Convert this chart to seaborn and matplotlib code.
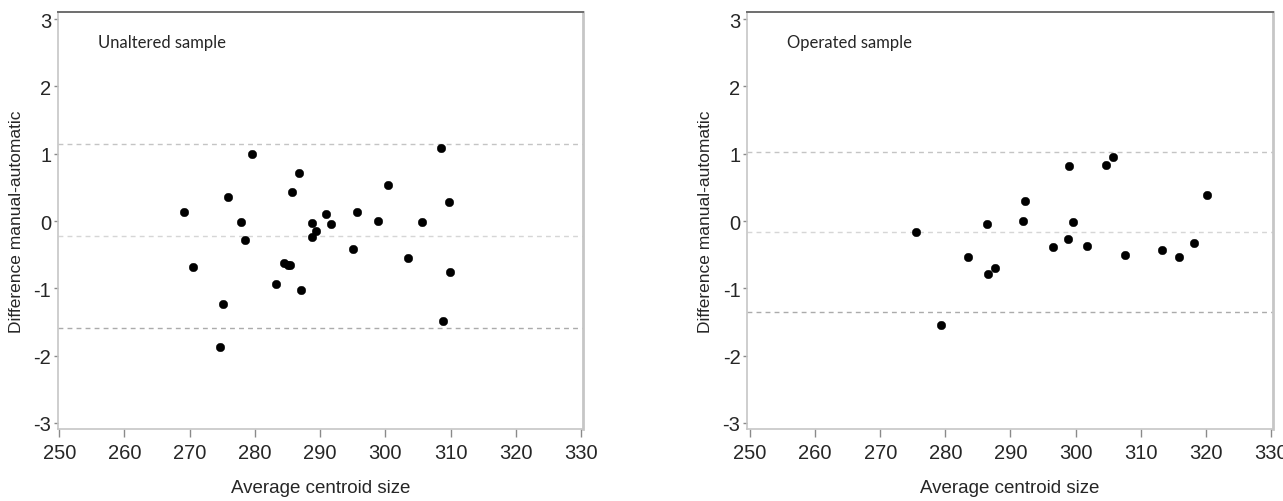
import numpy as np
import pandas as pd
import seaborn as sns
import matplotlib.pyplot as plt

# Bland-Altman style data
unaltered_size = [269.1, 270.5, 274.7, 275.1, 275.9, 277.9, 278.5, 279.6, 283.3, 284.4,
                  285.1, 285.4, 285.7, 286.7, 287.1, 288.7, 288.8, 289.4, 290.9, 291.6,
                  295.1, 295.6, 298.9, 300.4, 303.5, 305.6, 308.6, 308.8, 309.8, 309.9]
unaltered_diff = [0.13, -0.68, -1.87, -1.23, 0.35, -0.02, -0.28, 0.99, -0.93, -0.63,
                  -0.66, -0.66, 0.43, 0.72, -1.02, -0.03, -0.24, -0.15, 0.11, -0.05,
                  -0.41, 0.14, 0.0, 0.54, -0.55, -0.01, 1.08, -1.48, 0.28, -0.76]
unaltered_lines = [1.14, -0.22, -1.585]   # upper LoA, mean, lower LoA

operated_size = [275.5, 279.3, 283.5, 286.4, 286.6, 287.6, 291.9, 292.2, 296.6, 298.8,
                 299.0, 299.6, 301.8, 304.6, 305.7, 307.6, 313.3, 315.9, 318.1, 320.2]
operated_diff = [-0.17, -1.54, -0.54, -0.04, -0.78, -0.70, 0.0, 0.30, -0.39, -0.26,
                 0.82, -0.02, -0.37, 0.83, 0.95, -0.51, -0.43, -0.54, -0.32, 0.38]
operated_lines = [1.02, -0.16, -1.35]

xticks = [250, 260, 270, 280, 290, 300, 310, 320, 330]
yticks = [-3, -2, -1, 0, 1, 2, 3]

sns.set_style("white")
narrow = ['DejaVu Sans Condensed', 'Liberation Sans Narrow', 'Liberation Sans', 'DejaVu Sans']
plt.rcParams['font.family'] = narrow
plt.rcParams['axes.unicode_minus'] = False

fig = plt.figure(figsize=(12.83, 5.02), dpi=100)
ax1 = fig.add_axes([0.0454, 0.1434, 0.4092, 0.830])
ax2 = fig.add_axes([0.5825, 0.1434, 0.4097, 0.830])

panels = [
    (ax1, unaltered_size, unaltered_diff, unaltered_lines, "Unaltered sample", (249.85, 330.35)),
    (ax2, operated_size, operated_diff, operated_lines, "Operated sample", (249.6, 330.3)),
]

for ax, xs, ys, lines, title, xl in panels:
    df = pd.DataFrame({"size": xs, "diff": ys})
    sns.scatterplot(data=df, x="size", y="diff", ax=ax, color="black",
                    s=38, edgecolor="black", linewidth=0.3, zorder=3)
    ax.axhline(lines[0], color="#c4c4c4", ls=(0, (3.5, 3)), lw=1.0, zorder=1)
    ax.axhline(lines[1], color="#d6d6d6", ls=(0, (3.5, 3)), lw=1.0, zorder=1)
    ax.axhline(lines[2], color="#ababab", ls=(0, (3.5, 3)), lw=1.0, zorder=1)

    ax.set_xlim(*xl)
    ax.set_ylim(-3.09, 3.1)
    ax.set_xticks(xticks)
    ax.set_yticks(yticks)

    for side in ["left", "bottom", "right"]:
        ax.spines[side].set_color("#c6c6c6")
        ax.spines[side].set_linewidth(1.2)
    ax.spines["right"].set_linewidth(2.0)
    ax.spines["top"].set_color("#6e6e6e")
    ax.spines["top"].set_linewidth(1.4)

    ax.tick_params(axis="x", which="major", direction="out", length=6, width=1,
                   color="#8a8a8a", labelsize=14.5, pad=4, bottom=True)
    ax.tick_params(axis="y", which="major", direction="out", length=3, width=1,
                   color="#8a8a8a", labelsize=14.5, pad=2, left=True)

    ax.set_xlabel("Average centroid size", fontsize=13.5, labelpad=12)
    ax.set_ylabel("Difference manual-automatic", fontsize=12.5, labelpad=7,
                  family=['Liberation Sans', 'DejaVu Sans'])
    ax.text(0.0756, 0.93, title, transform=ax.transAxes, fontsize=12,
            family=['Lato', 'DejaVu Sans'], va="center", ha="left")

fig.savefig("out.png", dpi=100)
